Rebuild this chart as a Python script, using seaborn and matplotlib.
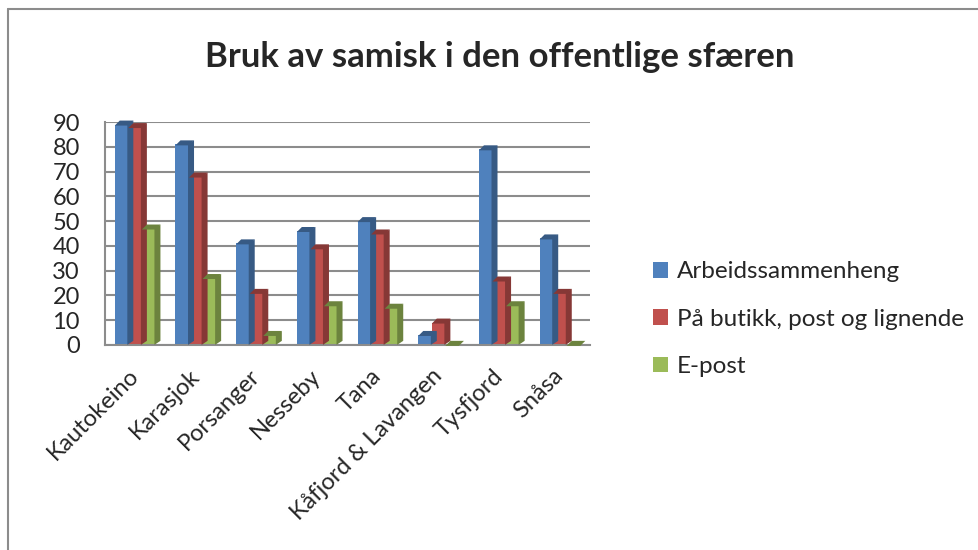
import pandas as pd
import numpy as np
import matplotlib
matplotlib.use('Agg')
import matplotlib.pyplot as plt
import seaborn as sns
from matplotlib.patches import Polygon
from matplotlib.lines import Line2D
import matplotlib.colors as mcolors

# ============================================
# Données
# ============================================
kommuner = ['Kautokeino', 'Karasjok', 'Porsanger', 'Nesseby', 'Tana',
            'Kåfjord & Lavangen', 'Tysfjord', 'Snåsa']
serier = ['Arbeidssammenheng', 'På butikk, post og lignende', 'E-post']
arbeid = [89, 81, 41, 46, 50, 4, 79, 43]
butikk = [88, 68, 21, 39, 45, 9, 26, 21]
epost = [47, 27, 4, 16, 15, 0, 16, 0]
farger = ['#4F81BD', '#C0504D', '#9BBB59']
y_ticks = list(range(0, 91, 10))

df = pd.DataFrame({'Kommune': kommuner * 3,
                   'Serie': [s for s in serier for _ in kommuner],
                   'Verdi': arbeid + butikk + epost})

# ============================================
# Figure
# ============================================
sns.set_style('white')
plt.rcParams['font.family'] = ['Lato', 'DejaVu Sans']

fig = plt.figure(figsize=(9.79, 5.5), dpi=100)
ax = fig.add_axes([0.107, 0.373, 0.496, 0.405])

sns.barplot(data=df, x='Kommune', y='Verdi', hue='Serie', palette=farger,
            width=0.67, saturation=1, linewidth=0, ax=ax, legend=True)

ax.set_ylim(0, 90)
ax.set_yticks(y_ticks)
ax.yaxis.grid(True, color='#8C8C8C', linewidth=1.5)
ax.set_axisbelow(True)
for side in ['top', 'right']:
    ax.spines[side].set_visible(False)
for side in ['left', 'bottom']:
    ax.spines[side].set_color('#8C8C8C')
    ax.spines[side].set_linewidth(1.5)
ax.set_xlabel('')
ax.set_ylabel('')
ax.tick_params(axis='y', labelsize=17, length=0, pad=18)
ax.tick_params(axis='x', labelsize=17, length=0, pad=20)
plt.setp(ax.get_xticklabels(), rotation=45, ha='right', va='center',
         rotation_mode='anchor')

# Légende à droite
handles, labels = ax.get_legend_handles_labels()
ax.legend(handles, labels, loc='center left', bbox_to_anchor=(1.105, 0.115),
          frameon=False, fontsize=17.5, handlelength=0.6, handleheight=0.6,
          handletextpad=0.35, labelspacing=1.08, borderpad=0)

fig.text(0.51, 0.897, 'Bruk av samisk i den offentlige sfæren',
         ha='center', va='center', fontsize=25, fontweight='bold')

# ============================================
# Effet 3D : faces latérales et supérieures des barres
# ============================================
fig.canvas.draw()
dx, dy = 5, 4
for bar in ax.patches:
    if not isinstance(bar, matplotlib.patches.Rectangle):
        continue
    if bar.get_width() == 0:
        continue
    x0, y0 = bar.get_x(), bar.get_y()
    x1, y1 = x0 + bar.get_width(), y0 + bar.get_height()
    (px0, py0), (px1, py1) = ax.transData.transform([(x0, y0), (x1, y1)])
    mork = np.array(mcolors.to_rgb(bar.get_facecolor())) * 0.7
    # léger recouvrement d'un pixel pour éviter un liseré blanc
    side = [(px1 - 1, py0), (px1 - 1, py1), (px1 + dx, py1 + dy), (px1 + dx, py0 + dy)]
    top = [(px0, py1 - 1), (px1, py1 - 1), (px1 + dx, py1 + dy), (px0 + dx, py1 + dy)]
    for pts in (side, top):
        fig.patches.append(Polygon(pts, closed=True, transform=None,
                                   facecolor=mork, edgecolor='none', zorder=3))

# Cadre du graphique (haut et gauche visibles)
fig.lines.append(Line2D([8 / 979, 1.0], [1 - 9 / 550, 1 - 9 / 550],
                        transform=fig.transFigure, color='#8C8C8C', linewidth=1.5))
fig.lines.append(Line2D([8 / 979, 8 / 979], [0.0, 1 - 9 / 550],
                        transform=fig.transFigure, color='#8C8C8C', linewidth=1.5))

plt.savefig('out.png', dpi=100)
